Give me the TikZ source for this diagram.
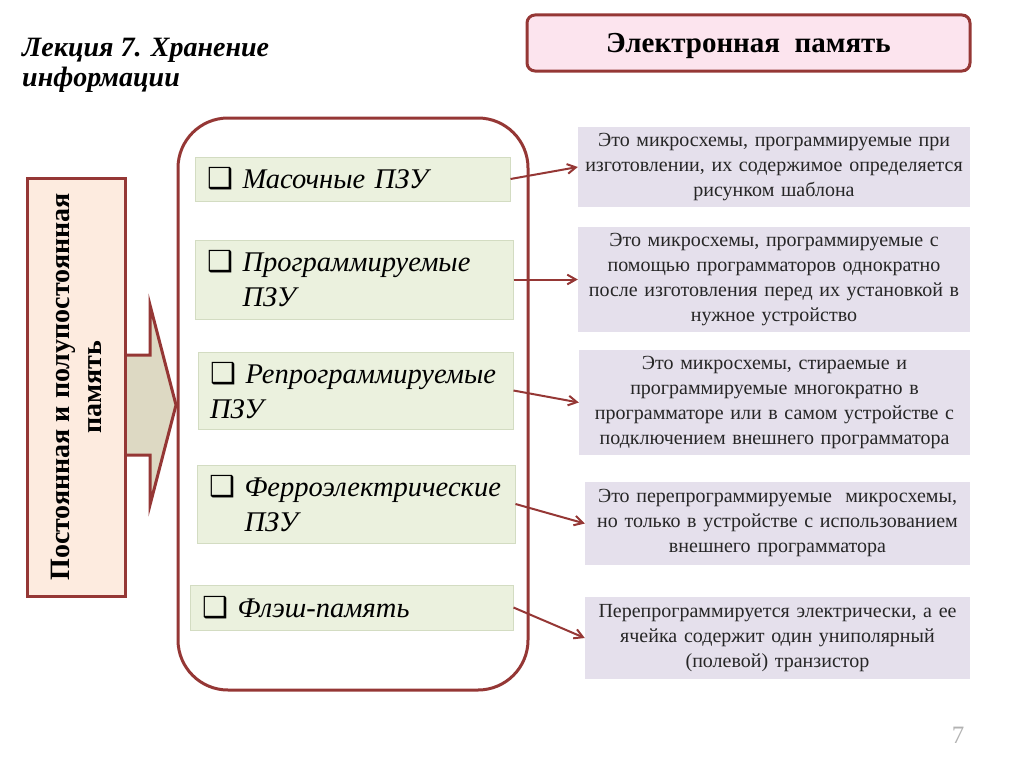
\documentclass[tikz,border=0pt]{standalone}
\usepackage{fontspec}
\setmainfont{Liberation Serif}
\newfontfamily\symf{DejaVu Sans}
\usepackage{xcolor}
\usetikzlibrary{arrows.meta}
\definecolor{brd}{HTML}{953735}
\definecolor{pinkbg}{HTML}{FCE4EE}
\definecolor{peachbg}{HTML}{FDEBDF}
\definecolor{tanbg}{HTML}{DDD9C3}
\definecolor{itembg}{HTML}{EBF1DE}
\definecolor{itemln}{HTML}{D3DCC2}
\definecolor{descbg}{HTML}{E5E0EC}
\hyphenpenalty=10000
\exhyphenpenalty=10000
\tikzset{
  ar/.style={-{Straight Barb[length=3mm,width=3.4mm]},line width=2pt,brd},
  itm/.style={rectangle,draw=itemln,fill=itembg,line width=1pt,align=left,inner xsep=12pt,inner ysep=0pt,font=\fontsize{28.5}{35}\selectfont\itshape},
  dsc/.style={rectangle,fill=descbg,align=center,inner xsep=2pt,inner ysep=0pt,font=\fontsize{20}{25}\selectfont,text=black!85},
  hdr/.style={rectangle,draw=brd,line width=3pt,fill=pinkbg,rounded corners=8pt,text depth=0pt,font=\fontsize{29}{34}\selectfont\bfseries}
}
\newcommand{\cb}{{\symf\fontsize{29}{29}\selectfont ❑}\ }

\begin{document}
\begin{tikzpicture}[x=1pt,y=-1pt]
\useasboundingbox (0,0) rectangle (1024,768);
% title
\node[anchor=north west,inner sep=0pt,align=left,font=\fontsize{28}{30}\selectfont\bfseries\itshape] (tt) at (22,38) {Лекция 7. Хранение\\информации};
\node[hdr,minimum width=443pt,minimum height=56pt] (hd) at (748.5,43) {Электронная~~память};
% left part
\node[rectangle,draw=brd,line width=3pt,minimum width=350pt,minimum height=572pt,rounded corners=50pt] (pn) at (353,404) {};
\draw[brd,line width=3pt,fill=tanbg,line join=miter] (110,355) -- (150,355) -- (150,305) -- (176,405) -- (150,505) -- (150,455) -- (110,455) -- cycle;
\node[rectangle,draw=brd,line width=3pt,fill=peachbg,rotate=90,minimum width=418pt,minimum height=98pt,align=center,font=\fontsize{28}{32}\selectfont\bfseries] (lb) at (76,387) {Постоянная и полупостоянная\\память};
% kinds
\node[itm,text width=291pt,minimum height=44pt] (i1) at (352.5,179) {\cb Масочные ПЗУ};
\node[itm,text width=294pt,minimum height=79pt] (i2) at (354,279.5) {\cb Программируемые\\\phantom{\cb}ПЗУ};
\node[itm,text width=291pt,minimum height=77pt] (i3) at (355.5,390.5) {\cb Репрограммируемые\\ПЗУ};
\node[itm,text width=294pt,minimum height=78pt] (i4) at (356,504) {\cb Ферроэлектрические\\\phantom{\cb}ПЗУ};
\node[itm,text width=299pt,minimum height=45pt] (i5) at (351.5,607.5) {\cb Флэш-память};
% descriptions
\node[dsc,text width=388pt,minimum height=80pt] (d1) at (774,167) {Это микросхемы, программируемые при\\изготовлении, их содержимое определяется\\рисунком шаблона};
\node[dsc,text width=388pt,minimum height=105pt] (d2) at (774,279.5) {Это микросхемы, программируемые с\\помощью программаторов однократно\\после изготовления перед их установкой в\\нужное устройство};
\node[dsc,text width=387pt,minimum height=105pt] (d3) at (774.5,402.5) {Это микросхемы, стираемые и\\программируемые многократно в\\программаторе или в самом устройстве с\\подключением внешнего программатора};
\node[dsc,text width=381pt,minimum height=83pt] (d4) at (777.5,523.5) {Это перепрограммируемые~~микросхемы,\\но только в устройстве с использованием\\внешнего программатора};
\node[dsc,text width=381pt,minimum height=82pt] (d5) at (777.5,638) {Перепрограммируется электрически, а ее\\ячейка содержит один униполярный\\(полевой) транзистор};
\foreach \k in {1,...,5}
  \draw[ar] (i\k.east) -- (d\k.west);
\node[text=gray!60,font=\fontsize{25}{25}\selectfont] (pg) at (958,735) {7};
\end{tikzpicture}
\end{document}
